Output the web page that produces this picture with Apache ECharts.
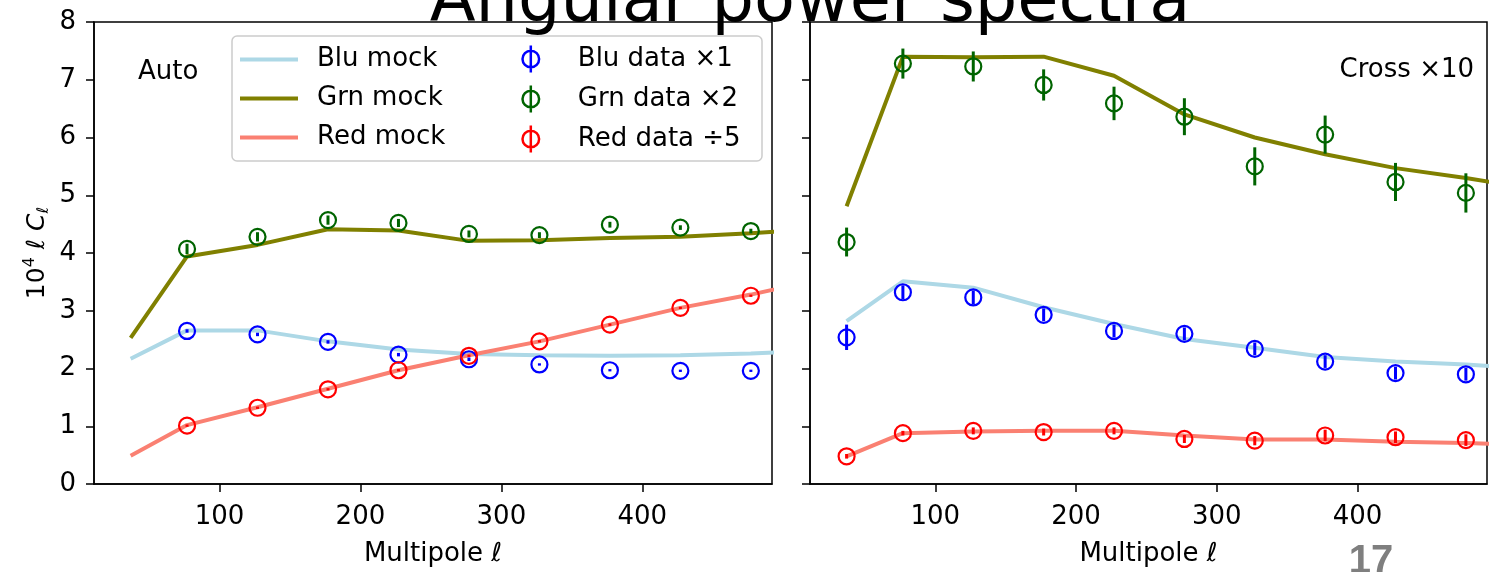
<!DOCTYPE html>
<html>
<head>
<meta charset="utf-8">
<script src="https://cdn.jsdelivr.net/npm/echarts@6/dist/echarts.min.js"></script>
<style>
html,body{margin:0;padding:0;background:#fff;}
#chart{width:1493px;height:572px;}
</style>
</head>
<body>
<div id="chart"></div>
<script>
// ---- data ----
const ellMock = [37, 77, 127, 177, 227, 277, 327, 377, 427, 477, 527];
const ellAuto = [77, 127, 177, 227, 277, 327, 377, 427, 477];
const ellCross = [37, 77, 127, 177, 227, 277, 327, 377, 427, 477];
const xTicks = [100, 200, 300, 400];

// Auto panel mocks
const bluMockAuto = [2.17, 2.66, 2.66, 2.47, 2.33, 2.25, 2.23, 2.22, 2.23, 2.26, 2.31];
const grnMockAuto = [2.53, 3.94, 4.14, 4.41, 4.39, 4.21, 4.22, 4.26, 4.28, 4.34, 4.43];
const redMockAuto = [0.49, 1.02, 1.33, 1.65, 1.97, 2.23, 2.47, 2.76, 3.05, 3.28, 3.55];
// Auto panel data
const bluDataAuto = [2.65, 2.59, 2.46, 2.24, 2.16, 2.07, 1.97, 1.96, 1.96];
const bluErrAuto  = [0.03, 0.03, 0.03, 0.03, 0.03, 0.02, 0.02, 0.02, 0.02];
const grnDataAuto = [4.07, 4.28, 4.57, 4.52, 4.33, 4.31, 4.49, 4.44, 4.38];
const grnErrAuto  = [0.09, 0.08, 0.08, 0.07, 0.06, 0.05, 0.05, 0.04, 0.04];
const redDataAuto = [1.01, 1.32, 1.64, 1.97, 2.22, 2.47, 2.76, 3.05, 3.26];
const redErrAuto  = [0.02, 0.02, 0.02, 0.02, 0.02, 0.02, 0.02, 0.02, 0.02];

// Cross panel mocks
const bluMockCross = [2.82, 3.51, 3.40, 3.06, 2.77, 2.51, 2.36, 2.20, 2.12, 2.07, 1.99];
const grnMockCross = [4.81, 7.40, 7.39, 7.40, 7.07, 6.40, 6.00, 5.71, 5.47, 5.30, 5.10];
const redMockCross = [0.48, 0.88, 0.91, 0.92, 0.92, 0.84, 0.77, 0.77, 0.73, 0.71, 0.67];
// Cross panel data
const bluDataCross = [2.54, 3.32, 3.23, 2.93, 2.65, 2.60, 2.34, 2.12, 1.92, 1.90];
const bluErrCross  = [0.22, 0.12, 0.12, 0.11, 0.11, 0.11, 0.11, 0.11, 0.11, 0.11];
const grnDataCross = [4.19, 7.28, 7.23, 6.91, 6.59, 6.36, 5.50, 6.05, 5.23, 5.04];
const grnErrCross  = [0.25, 0.26, 0.26, 0.27, 0.29, 0.32, 0.33, 0.33, 0.33, 0.34];
const redDataCross = [0.48, 0.88, 0.92, 0.90, 0.92, 0.78, 0.75, 0.84, 0.81, 0.76];
const redErrCross  = [0.04, 0.04, 0.06, 0.06, 0.06, 0.07, 0.08, 0.10, 0.10, 0.10];

const names = {
  bluMock: 'Blu mock', grnMock: 'Grn mock', redMock: 'Red mock',
  bluData: 'Blu data \u00d71', grnData: 'Grn data \u00d72', redData: 'Red data \u00f75'
};
const col = {
  bluMock: '#add8e6', grnMock: '#808000', redMock: '#fa8072',
  bluData: '#0000ff', grnData: '#006400', redData: '#ff0000'
};

// ---- build ----
const FONT = 'DejaVu Sans';
function zip(xs, ys) { return xs.map((x, i) => [x, ys[i]]); }
function zip3(xs, ys, es) { return xs.map((x, i) => [x, ys[i], es[i]]); }

function mockSeries(name, color, ys, idx) {
  return {
    type: 'line', name: name, xAxisIndex: idx, yAxisIndex: idx,
    data: zip(ellMock, ys), showSymbol: false, symbol: 'none',
    lineStyle: { color: color, width: 4 }, itemStyle: { color: color },
    clip: true, z: 2, animation: false
  };
}
function dataSeries(name, color, xs, ys, es, idx) {
  return {
    type: 'custom', name: name, xAxisIndex: idx, yAxisIndex: idx,
    data: zip3(xs, ys, es), encode: { x: 0, y: 1 }, z: 5, animation: false,
    itemStyle: { color: color },
    renderItem: function (params, api) {
      const x = api.value(0), y = api.value(1), e = api.value(2);
      const c = api.coord([x, y]);
      const lo = api.coord([x, y - e]);
      const hi = api.coord([x, y + e]);
      return {
        type: 'group',
        children: [
          { type: 'line', shape: { x1: lo[0], y1: lo[1], x2: hi[0], y2: hi[1] },
            style: { stroke: color, lineWidth: 3 } },
          { type: 'circle', shape: { cx: c[0], cy: c[1], r: 8 },
            style: { fill: 'none', stroke: color, lineWidth: 2.2 } }
        ]
      };
    }
  };
}

const phiIcon = 'path://M8,0 L8,26 M0,13 A8,8 0 1 1 16,13 A8,8 0 1 1 0,13 Z';

function xAxisDef(idx) {
  return {
    type: 'value', gridIndex: idx, min: 11, max: 492,
    name: 'Multipole \u2113', nameLocation: 'middle', nameGap: 57,
    nameTextStyle: { fontFamily: FONT, fontSize: 26, color: '#000' },
    axisLine: { lineStyle: { color: '#000', width: 1.5 } },
    axisTick: { customValues: xTicks, length: 8, lineStyle: { color: '#000', width: 1.5 } },
    axisLabel: { customValues: xTicks, margin: 20, fontFamily: FONT, fontSize: 26, color: '#000' },
    splitLine: { show: false }
  };
}
function yAxisDef(idx, showLabels) {
  const a = {
    type: 'value', gridIndex: idx, min: 0, max: 8, interval: 1,
    axisLine: { show: true, lineStyle: { color: '#000', width: 1.5 } },
    axisTick: { show: true, length: 8, lineStyle: { color: '#000', width: 1.5 } },
    axisLabel: { show: showLabels, margin: 18, fontFamily: FONT, fontSize: 26, color: '#000' },
    splitLine: { show: false }
  };
  if (showLabels) {
    a.name = '10{sup|4} {it|\u2113 C}{sub|\u2113}';
    a.nameLocation = 'middle';
    a.nameGap = 42;
    a.nameTextStyle = {
      fontFamily: FONT, fontSize: 25, color: '#000',
      rich: {
        sup: { fontFamily: FONT, fontSize: 16, color: '#000', verticalAlign: 'top', lineHeight: 30 },
        it: { fontFamily: FONT, fontSize: 25, color: '#000', fontStyle: 'italic', lineHeight: 30 },
        sub: { fontFamily: FONT, fontSize: 16, color: '#000', fontStyle: 'italic', verticalAlign: 'bottom', lineHeight: 30 }
      }
    };
  }
  return a;
}

const chart = echarts.init(document.getElementById('chart'), null, { renderer: 'canvas' });
const option = {
  animation: false,
  backgroundColor: '#fff',
  grid: [
    { left: 94, top: 22, width: 678, height: 464, show: true, borderColor: '#000', borderWidth: 1.5, backgroundColor: 'transparent' },
    { left: 810, top: 22, width: 677, height: 464, show: true, borderColor: '#000', borderWidth: 1.5, backgroundColor: 'transparent' }
  ],
  xAxis: [xAxisDef(0), xAxisDef(1)],
  yAxis: [yAxisDef(0, true), yAxisDef(1, false)],
  legend: [
    {
      orient: 'vertical', left: 235, top: 41, itemWidth: 58, itemHeight: 4, itemGap: 12,
      textStyle: { fontFamily: FONT, fontSize: 26, color: '#000', lineHeight: 27, padding: [0, 0, 0, 14] },
      data: [
        { name: names.bluMock, icon: 'rect', itemStyle: { color: col.bluMock } },
        { name: names.grnMock, icon: 'rect', itemStyle: { color: col.grnMock } },
        { name: names.redMock, icon: 'rect', itemStyle: { color: col.redMock } }
      ],
      selectedMode: false, z: 10
    },
    {
      orient: 'vertical', left: 515, top: 38, itemWidth: 84, itemHeight: 27, itemGap: 8,
      textStyle: { fontFamily: FONT, fontSize: 26, color: '#000', lineHeight: 27 },
      data: [
        { name: names.bluData, icon: phiIcon, itemStyle: { color: 'none', borderColor: col.bluData, borderWidth: 2.5 } },
        { name: names.grnData, icon: phiIcon, itemStyle: { color: 'none', borderColor: col.grnData, borderWidth: 2.5 } },
        { name: names.redData, icon: phiIcon, itemStyle: { color: 'none', borderColor: col.redData, borderWidth: 2.5 } }
      ],
      selectedMode: false, z: 10
    }
  ],
  graphic: [
    { type: 'rect', z: 8, shape: { x: 232, y: 36, width: 530, height: 125, r: 5 },
      style: { fill: 'rgba(255,255,255,0.8)', stroke: '#cccccc', lineWidth: 1.5 } },
    { type: 'text', z: 9, x: 138, y: 72,
      style: { text: 'Auto', fontFamily: FONT, fontSize: 26, fill: '#000', textAlign: 'left', textVerticalAlign: 'middle' } },
    { type: 'text', z: 9, x: 1474, y: 70,
      style: { text: 'Cross \u00d710', fontFamily: FONT, fontSize: 26, fill: '#000', textAlign: 'right', textVerticalAlign: 'middle' } },
    { type: 'text', z: 9, x: 810, y: 4,
      style: { text: 'Angular power spectra', fontFamily: FONT, fontSize: 67, fill: '#000', textAlign: 'center', textVerticalAlign: 'middle' } },
    { type: 'text', z: 9, x: 1371, y: 562,
      style: { text: '17', fontFamily: 'Liberation Sans Narrow, Liberation Sans, sans-serif', fontWeight: 'bold', fontSize: 40, fill: '#7f7f7f', textAlign: 'center', textVerticalAlign: 'middle' } }
  ],
  series: [
    mockSeries(names.bluMock, col.bluMock, bluMockAuto, 0),
    mockSeries(names.grnMock, col.grnMock, grnMockAuto, 0),
    mockSeries(names.redMock, col.redMock, redMockAuto, 0),
    dataSeries(names.bluData, col.bluData, ellAuto, bluDataAuto, bluErrAuto, 0),
    dataSeries(names.grnData, col.grnData, ellAuto, grnDataAuto, grnErrAuto, 0),
    dataSeries(names.redData, col.redData, ellAuto, redDataAuto, redErrAuto, 0),
    mockSeries(names.bluMock, col.bluMock, bluMockCross, 1),
    mockSeries(names.grnMock, col.grnMock, grnMockCross, 1),
    mockSeries(names.redMock, col.redMock, redMockCross, 1),
    dataSeries(names.bluData, col.bluData, ellCross, bluDataCross, bluErrCross, 1),
    dataSeries(names.grnData, col.grnData, ellCross, grnDataCross, grnErrCross, 1),
    dataSeries(names.redData, col.redData, ellCross, redDataCross, redErrCross, 1)
  ]
};
chart.setOption(option);
</script>
</body>
</html>
